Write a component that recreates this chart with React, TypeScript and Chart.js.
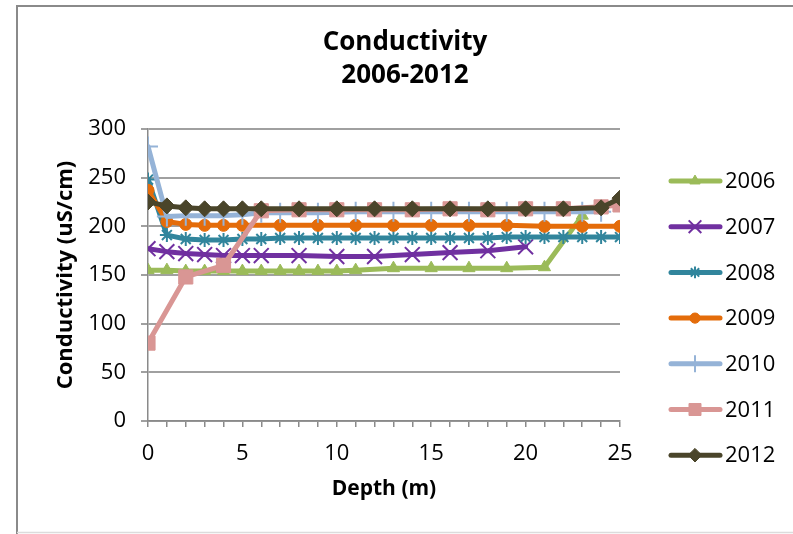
import React, { useEffect, useRef } from 'react';
import { Chart, registerables } from 'chart.js';
import { drawPoint } from 'chart.js/helpers';

Chart.register(...registerables);

const chartTitle = ['Conductivity', '2006-2012'];
const xTitle = 'Depth (m)';
const yTitle = 'Conductivity (uS/cm)';

const years = ['2006', '2007', '2008', '2009', '2010', '2011', '2012'];
const colors = ['#9BBB59', '#7030A0', '#31859C', '#E46C0A', '#95B3D7', '#D99694', '#4A452A'];
const pointStyles = ['triangle', 'crossRot', 'star', 'circle', 'cross', 'rect', 'rectRot'];
const pointRadii = [7, 10.5, 7, 6, 10, 10, 8];
const pointBorders = [1, 2, 2, 1, 2, 1, 1];

const depth2006 = [0, 1, 2, 3, 4, 5, 6, 7, 8, 9, 10, 11, 13, 15, 17, 19, 21, 23];
const cond2006 = [155, 155, 154, 154, 154, 154, 154, 154, 154, 154, 154, 155, 157, 157, 157, 157, 158, 211];

const depth2007 = [0, 1, 2, 3, 4, 5, 6, 8, 10, 12, 14, 16, 18, 20];
const cond2007 = [177, 174, 172, 171, 170, 170, 170, 170, 169, 169, 171, 173, 175, 179];

const depth2008 = [0, 1, 2, 3, 4, 5, 6, 7, 8, 9, 10, 11, 12, 13, 14, 15, 16, 17, 18, 19, 20, 21, 22, 23, 24, 25];
const cond2008 = [248, 191, 187, 186, 186, 187, 187, 188, 188, 188, 188, 188, 188, 188, 188, 188, 188, 188, 188, 189, 189, 189, 189, 189, 189, 189];

const depth2009 = [0, 1, 2, 3, 4, 5, 7, 9, 11, 13, 15, 17, 19, 21, 23, 25];
const cond2009 = [237, 205, 202, 201, 201, 201, 201, 201, 201, 201, 201, 201, 201, 200, 200, 200];

const depth2010 = [0, 1, 2, 3, 4, 5, 6, 7, 9, 11, 13, 15, 17, 19, 21, 23, 24];
const cond2010 = [282, 210, 211, 211, 211, 212, 214, 214, 214, 215, 215, 215, 215, 215, 215, 215, 215];

const depth2011 = [0, 2, 4, 6, 8, 10, 12, 14, 16, 18, 20, 22, 24, 25];
const cond2011 = [80, 148, 160, 216, 217, 217, 217, 217, 218, 217, 218, 218, 220, 222];

const depth2012 = [0, 1, 2, 3, 4, 5, 6, 8, 10, 12, 14, 16, 18, 20, 22, 24, 25];
const cond2012 = [225, 221, 219, 218, 218, 218, 218, 218, 218, 218, 218, 218, 218, 218, 218, 219, 229];

const depths = [depth2006, depth2007, depth2008, depth2009, depth2010, depth2011, depth2012];
const conds = [cond2006, cond2007, cond2008, cond2009, cond2010, cond2011, cond2012];

const xTicksMin = 0;
const xTicksMax = 25;
const yTicksMin = 0;
const yTicksMax = 300;
const yStep = 50;

const FONT = "'Open Sans', 'Liberation Sans', sans-serif";

const framePlugin = {
  id: 'frame',
  beforeDraw(chart: any) {
    const ctx = chart.ctx;
    ctx.save();
    ctx.fillStyle = '#ffffff';
    ctx.fillRect(0, 0, chart.width, chart.height);
    ctx.strokeStyle = '#8a8a8a';
    ctx.lineWidth = 2;
    ctx.beginPath();
    ctx.moveTo(17, chart.height);
    ctx.lineTo(17, 6);
    ctx.lineTo(chart.width + 2, 6);
    ctx.stroke();
    ctx.strokeStyle = '#dcdcdc';
    ctx.lineWidth = 1.5;
    ctx.beginPath();
    ctx.moveTo(17, 532.5);
    ctx.lineTo(chart.width, 532.5);
    ctx.stroke();
    ctx.restore();
  },
  afterDraw(chart: any) {
    const ctx = chart.ctx;
    ctx.save();
    // title
    ctx.fillStyle = '#000';
    ctx.font = `bold 26px ${FONT}`;
    ctx.textAlign = 'center';
    ctx.textBaseline = 'middle';
    ctx.fillText(chartTitle[0], 405, 43);
    ctx.fillText(chartTitle[1], 405, 76);
    // legend
    chart.data.datasets.forEach((ds: any, i: number) => {
      const y = 181 + i * 45.7;
      ctx.strokeStyle = ds.borderColor;
      ctx.lineWidth = 5;
      ctx.lineCap = 'round';
      ctx.beginPath();
      ctx.moveTo(671, y);
      ctx.lineTo(720, y);
      ctx.stroke();
      ctx.fillStyle = ds.pointBackgroundColor;
      ctx.strokeStyle = ds.pointBorderColor;
      ctx.lineWidth = ds.pointBorderWidth;
      ctx.lineCap = 'butt';
      drawPoint(ctx, { pointStyle: ds.pointStyle, radius: ds.pointRadius * 0.85, rotation: 0, borderWidth: ds.pointBorderWidth }, 695, y);
      ctx.fillStyle = '#000';
      ctx.font = `22px ${FONT}`;
      ctx.textAlign = 'left';
      ctx.textBaseline = 'middle';
      ctx.fillText(ds.label, 725, y + 1);
    });
    ctx.restore();
  },
};

export default function App() {
  const canvasRef = useRef<HTMLCanvasElement | null>(null);

  useEffect(() => {
    document.body.style.margin = '0';
    const canvas = canvasRef.current;
    if (!canvas) return;
    const datasets = years.map((year, i) => ({
      label: year,
      data: depths[i].map((d, j) => ({ x: d, y: conds[i][j] })),
      borderColor: colors[i],
      backgroundColor: colors[i],
      pointBackgroundColor: colors[i],
      pointBorderColor: colors[i],
      pointStyle: pointStyles[i],
      pointRadius: pointRadii[i],
      pointBorderWidth: pointBorders[i],
      pointHoverRadius: pointRadii[i],
      borderWidth: 5,
      borderCapStyle: 'round',
      borderJoinStyle: 'round',
      tension: 0,
      fill: false,
      order: 6 - i,
    }));

    const chart = new Chart(canvas, {
      type: 'line',
      data: { datasets } as any,
      options: {
        responsive: false,
        animation: false,
        devicePixelRatio: 1,
        layout: { padding: { left: 0, top: 129, right: 173, bottom: 0 } },
        plugins: {
          legend: { display: false },
          title: { display: false },
          tooltip: { enabled: false },
        },
        scales: {
          x: {
            type: 'linear',
            position: 'bottom',
            min: xTicksMin,
            max: xTicksMax,
            afterFit: (scale: any) => { scale.height = 113; },
            ticks: {
              stepSize: 1,
              autoSkip: false,
              maxRotation: 0,
              color: '#000',
              font: { family: FONT, size: 22 },
              padding: 14,
              callback: (v: any) => (Number(v) % 5 === 0 ? String(v) : ''),
            },
            grid: { drawOnChartArea: false, drawTicks: true, tickLength: 6, color: '#8a8a8a', lineWidth: 1.5 },
            border: { display: true, color: '#8a8a8a', width: 1.5 },
            title: {
              display: true,
              text: xTitle,
              color: '#000',
              font: { family: FONT, size: 21, weight: 'bold' },
              padding: { top: 0, bottom: 32 },
            },
          },
          y: {
            type: 'linear',
            min: yTicksMin,
            max: yTicksMax,
            afterFit: (scale: any) => { scale.width = 148; },
            ticks: {
              stepSize: yStep,
              color: '#000',
              font: { family: FONT, size: 22 },
              padding: 15,
            },
            grid: { color: '#a0a0a0', lineWidth: 2, drawTicks: true, tickLength: 7 },
            border: { display: true, color: '#8a8a8a', width: 1.5 },
            title: {
              display: true,
              text: yTitle,
              color: '#000',
              font: { family: FONT, size: 22, weight: 'bold' },
              padding: { top: 53, bottom: 0 },
            },
          },
        },
      } as any,
      plugins: [framePlugin],
    });
    return () => chart.destroy();
  }, []);

  return (
    <div style={{ width: 793, height: 534, overflow: 'hidden' }}>
      <canvas ref={canvasRef} width={793} height={534} style={{ display: 'block' }} />
    </div>
  );
}
